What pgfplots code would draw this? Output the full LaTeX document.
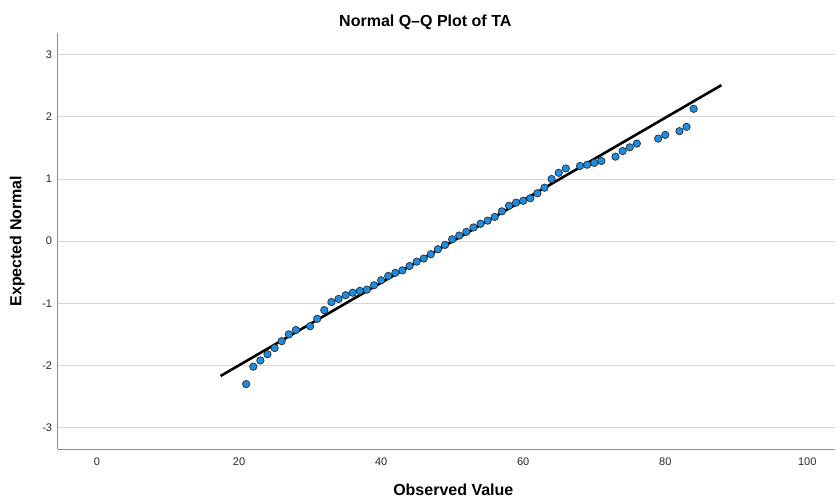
\documentclass[border=0pt]{standalone}
\usepackage{fontspec}
\setmainfont{Liberation Sans}
\usepackage{pgfplots}
\pgfplotsset{compat=1.18}
\definecolor{ptblue}{RGB}{32,140,222}
\definecolor{ptedge}{RGB}{35,45,55}
\definecolor{gridgray}{RGB}{215,215,215}
\definecolor{axgray}{RGB}{140,140,140}
\begin{document}
\begin{tikzpicture}
\path[use as bounding box] (0,0) rectangle (836bp,498bp);
\begin{axis}[
  at={(57.6bp,48.7bp)}, anchor=south west,
  scale only axis, width=777.4bp, height=416.3bp,
  xmin=-5.55, xmax=103.9, ymin=-3.35, ymax=3.35,
  axis x line=bottom, axis y line=left,
  axis line style={axgray, line width=0.8pt, -},
  xtick={0,20,40,60,80,100}, ytick={-3,-2,-1,0,1,2,3},
  major tick length=0pt,
  ymajorgrids, major grid style={gridgray, line width=1pt},
  /pgf/number format/assume math mode=true,
  tick label style={font=\fontsize{11bp}{12bp}\selectfont, text=black!85},
  xticklabel style={yshift=-5bp},
  yticklabel style={xshift=-2bp},
  title={\textbf{Normal Q–Q Plot of TA}},
  title style={font=\fontsize{16bp}{18bp}\selectfont, at={(axis description cs:0.473,1.028)}, anchor=center, yshift=-7bp},
  xlabel={\textbf{Observed Value}},
  xlabel style={font=\fontsize{16bp}{18bp}\selectfont, at={(axis description cs:0.509,-0.098)}, anchor=center},
  ylabel={\textbf{Expected Normal}},
  ylabel style={font=\fontsize{16bp}{18bp}\selectfont, at={(axis description cs:-0.052,0.5)}, anchor=center, rotate=0},
  clip=false,
]
\addplot[black, line width=2.6pt] coordinates {(17.4,-2.17) (87.9,2.51)};
\addplot[only marks, mark=*, mark size=3.7bp, mark options={fill=ptblue, draw=ptedge, line width=0.7pt}] coordinates {
(21,-2.30) (22,-2.02) (23,-1.92) (24,-1.82) (25,-1.72) (26,-1.61) (27,-1.50) (28,-1.43)
(30,-1.37) (31,-1.25) (32,-1.11) (33,-0.98) (34,-0.93) (35,-0.87) (36,-0.83) (37,-0.80)
(38,-0.78) (39,-0.71) (40,-0.63) (41,-0.56) (42,-0.51) (43,-0.47) (44,-0.40) (45,-0.33)
(46,-0.28) (47,-0.21) (48,-0.13) (49,-0.06) (50,0.03) (51,0.09) (52,0.15) (53,0.22)
(54,0.28) (55,0.33) (56,0.39) (57,0.48) (58,0.57) (59,0.62) (60,0.65) (61,0.69)
(62,0.77) (63,0.86) (64,1.00) (65,1.10) (66,1.17) (68,1.21) (69,1.23) (70,1.26)
(71,1.29) (73,1.36) (74,1.45) (75,1.51) (76,1.57) (79,1.65) (80,1.71) (82,1.77)
(83,1.84) (84,2.13)
};
\end{axis}
\end{tikzpicture}
\end{document}
